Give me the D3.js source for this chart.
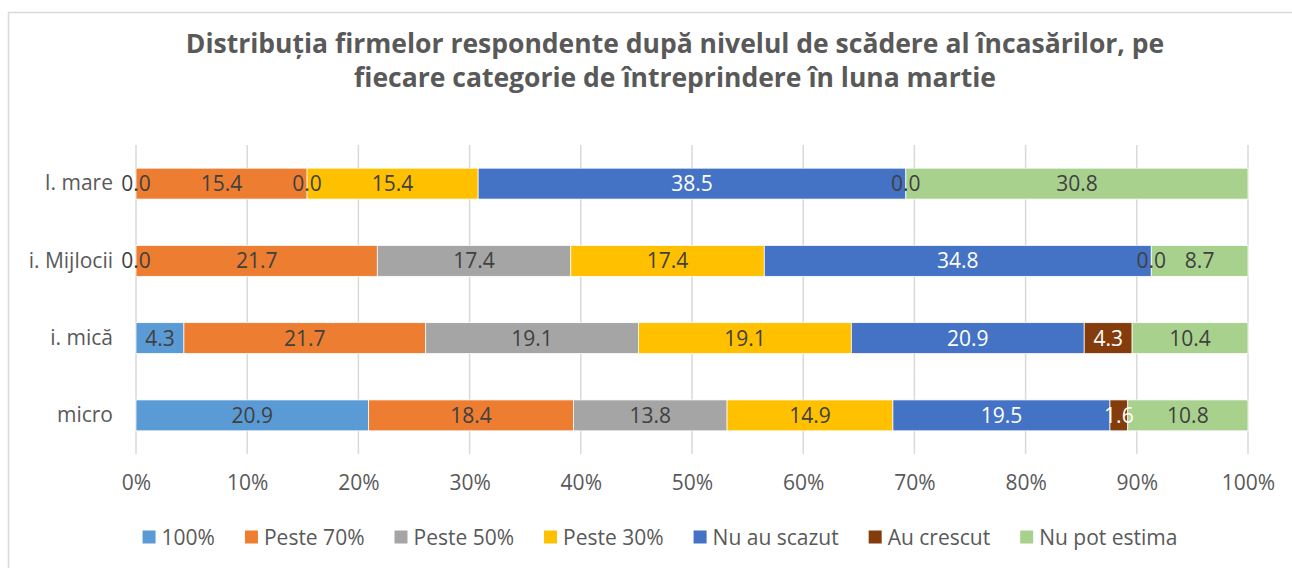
<!DOCTYPE html>
<html>
<head>
<meta charset="utf-8">
<script src="https://cdn.jsdelivr.net/npm/d3@7"></script>
<style>
  body { margin: 0; background: #fff; }
  svg { display: block; font-family: "Open Sans", "Liberation Sans", sans-serif; }
</style>
</head>
<body>
<div id="chart"></div>
<script>
// Categories (top to bottom) and series
const categories = ["I. mare", "i. Mijlocii", "i. mică", "micro"];
const seriesNames = ["100%", "Peste 70%", "Peste 50%", "Peste 30%", "Nu au scazut", "Au crescut", "Nu pot estima"];
const seriesColors = ["#5B9BD5", "#ED7D31", "#A5A5A5", "#FFC000", "#4472C4", "#843C0C", "#A9D18E"];
const whiteLabelSeries = ["Nu au scazut", "Au crescut"];

// one array per series, in category order
const v100 = [0.0, 0.0, 4.3, 20.9];
const vPeste70 = [15.4, 21.7, 21.7, 18.4];
const vPeste50 = [0.0, 17.4, 19.1, 13.8];
const vPeste30 = [15.4, 17.4, 19.1, 14.9];
const vNuAuScazut = [38.5, 34.8, 20.9, 19.5];
const vAuCrescut = [0.0, 0.0, 4.3, 1.6];
const vNuPotEstima = [30.8, 8.7, 10.4, 10.8];
const seriesValues = [v100, vPeste70, vPeste50, vPeste30, vNuAuScazut, vAuCrescut, vNuPotEstima];

const xTicks = [0, 0.1, 0.2, 0.3, 0.4, 0.5, 0.6, 0.7, 0.8, 0.9, 1];

const width = 1292, height = 568;
const margin = { top: 145, right: 44, bottom: 114, left: 136 };
const textColor = "#595959";
const fontSize = 21;

const svg = d3.select("#chart").append("svg")
  .attr("width", width)
  .attr("height", height);

// chart frame (runs off the right and bottom edges)
svg.append("rect")
  .attr("x", 8.5).attr("y", 12.5)
  .attr("width", width).attr("height", height)
  .attr("fill", "none")
  .attr("stroke", "#d9d9d9")
  .attr("stroke-width", 1.5);

// title
const title = svg.append("text")
  .attr("text-anchor", "middle")
  .attr("fill", textColor)
  .attr("font-weight", "bold")
  .attr("font-size", 26.5);
title.append("tspan").attr("x", 675).attr("y", 53)
  .text("Distribuția firmelor respondente după nivelul de scădere al încasărilor, pe");
title.append("tspan").attr("x", 675).attr("y", 87)
  .text("fiecare categorie de întreprindere în luna martie");

// build table rows with normalised (100% stacked) values
const rows = categories.map((c, i) => {
  const row = { category: c };
  seriesNames.forEach((s, j) => { row[s] = seriesValues[j][i]; });
  row.total = d3.sum(seriesValues, arr => arr[i]);
  return row;
});

const stack = d3.stack()
  .keys(seriesNames)
  .value((d, key) => d[key] / d.total);
const stacked = stack(rows);

const x = d3.scaleLinear()
  .domain([0, 1])
  .range([margin.left, width - margin.right]);

const y = d3.scaleBand()
  .domain(categories)
  .range([margin.top, height - margin.bottom])
  .paddingInner(0.6)
  .paddingOuter(0.3);

// gridlines
svg.append("g")
  .selectAll("line")
  .data(xTicks)
  .join("line")
  .attr("x1", d => x(d)).attr("x2", d => x(d))
  .attr("y1", margin.top).attr("y2", height - margin.bottom)
  .attr("stroke", "#d9d9d9")
  .attr("stroke-width", 1.5);

// x tick labels
const xAxis = svg.append("g")
  .attr("transform", `translate(0,${height - margin.bottom})`)
  .call(d3.axisBottom(x).tickValues(xTicks).tickFormat(d3.format(".0%")).tickSize(0).tickPadding(21));
xAxis.select(".domain").remove();
xAxis.selectAll("text")
  .attr("fill", textColor)
  .attr("font-size", fontSize)
  .attr("font-family", "Open Sans, sans-serif");

// y category labels
const yAxis = svg.append("g")
  .attr("transform", `translate(${margin.left},0)`)
  .call(d3.axisLeft(y).tickSize(0).tickPadding(23));
yAxis.select(".domain").remove();
yAxis.selectAll("text")
  .attr("fill", textColor)
  .attr("font-size", fontSize)
  .attr("font-family", "Open Sans, sans-serif");

// bars
svg.append("g")
  .selectAll("g")
  .data(stacked)
  .join("g")
  .attr("fill", (d, i) => seriesColors[i])
  .selectAll("rect")
  .data(d => d)
  .join("rect")
  .attr("x", d => x(d[0]))
  .attr("y", d => y(d.data.category))
  .attr("width", d => x(d[1]) - x(d[0]))
  .attr("height", y.bandwidth())
  .attr("stroke", "#fff")
  .attr("stroke-width", 0.75);

// data labels, drawn after all bars so zero values stay visible
svg.append("g")
  .selectAll("g")
  .data(stacked)
  .join("g")
  .each(function(series) {
    const key = series.key;
    d3.select(this).selectAll("text")
      .data(series)
      .join("text")
      .attr("x", d => (x(d[0]) + x(d[1])) / 2)
      .attr("y", d => y(d.data.category) + y.bandwidth() / 2)
      .attr("dy", "0.36em")
      .attr("text-anchor", "middle")
      .attr("font-size", fontSize)
      .attr("fill", d => (whiteLabelSeries.includes(key) && d.data[key] > 0) ? "#fff" : "#404040")
      .text(d => d.data[key].toFixed(1));
  });

// legend
const legendItems = seriesNames.map((s, i) => ({ name: s, color: seriesColors[i] }));
const legend = svg.append("g").attr("transform", "translate(0,537)");
const itemWidths = [];
const tmp = legend.append("g");
legendItems.forEach(d => {
  const t = tmp.append("text").attr("font-size", fontSize).text(d.name);
  itemWidths.push(t.node().getComputedTextLength());
});
tmp.remove();
const swatch = 13, gapText = 6, gapItem = 30;
const totalW = d3.sum(itemWidths) + legendItems.length * (swatch + gapText) + (legendItems.length - 1) * gapItem;
let cx = 660 - totalW / 2;
legendItems.forEach((d, i) => {
  const g = legend.append("g").attr("transform", `translate(${cx},0)`);
  g.append("rect")
    .attr("x", 0).attr("y", -swatch / 2)
    .attr("width", swatch).attr("height", swatch)
    .attr("fill", d.color);
  g.append("text")
    .attr("x", swatch + gapText)
    .attr("dy", "0.36em")
    .attr("font-size", fontSize)
    .attr("fill", textColor)
    .text(d.name);
  cx += swatch + gapText + itemWidths[i] + gapItem;
});
</script>
</body>
</html>
